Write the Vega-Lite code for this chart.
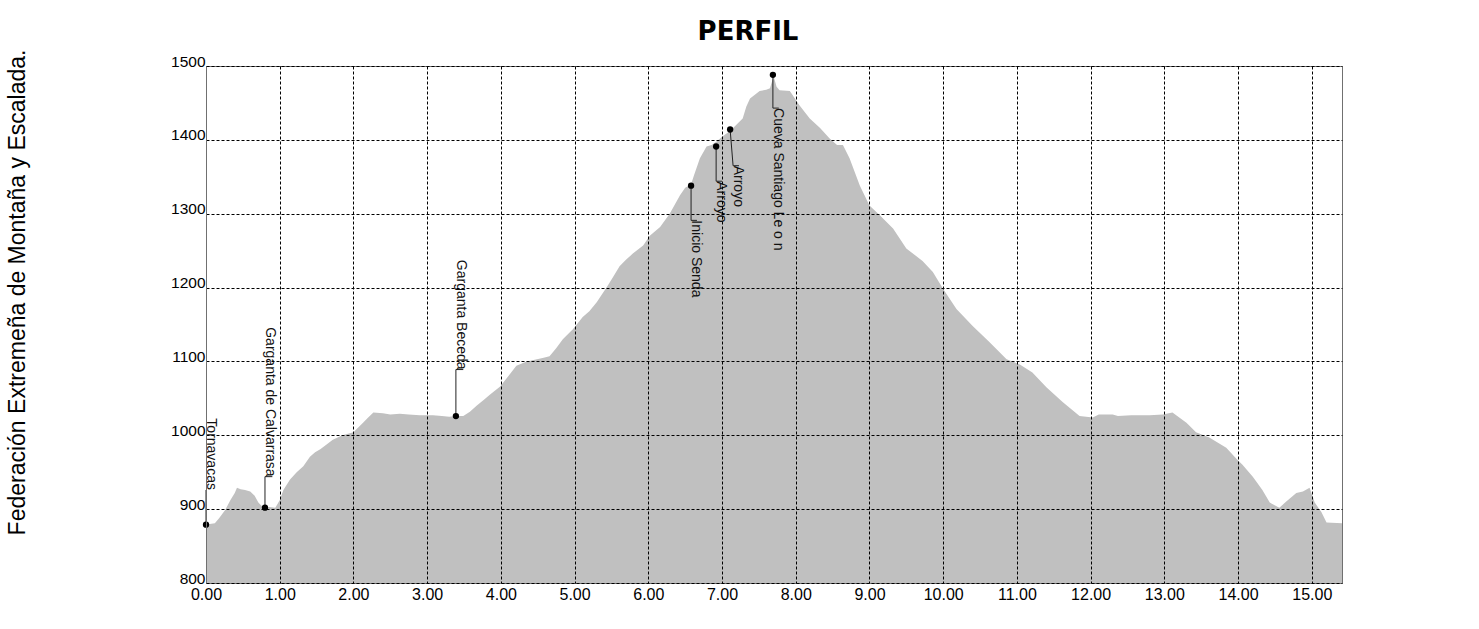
{
  "$schema": "https://vega.github.io/schema/vega-lite/v6.json",
  "width": 1136,
  "height": 517,
  "autosize": {"type": "none"},
  "padding": {"left": 206, "top": 66, "right": 137, "bottom": 46},
  "background": "white",
  "title": {"text": "PERFIL", "font": "DejaVu Sans", "fontSize": 26, "fontWeight": "bold", "color": "#000", "anchor": "middle", "frame": "group", "dx": -26, "dy": 26, "offset": 9, "baseline": "alphabetic"},
  "config": {"view": {"stroke": "#707070", "strokeWidth": 1}, "font": "Liberation Sans"},
  "datasets": {
    "profile": [
      {"km": 0.00, "elev": 879}, {"km": 0.05, "elev": 880}, {"km": 0.12, "elev": 881}, {"km": 0.18, "elev": 888},
      {"km": 0.26, "elev": 899}, {"km": 0.33, "elev": 912}, {"km": 0.39, "elev": 922}, {"km": 0.42, "elev": 929},
      {"km": 0.47, "elev": 927}, {"km": 0.53, "elev": 926}, {"km": 0.60, "elev": 924}, {"km": 0.66, "elev": 918},
      {"km": 0.71, "elev": 909}, {"km": 0.76, "elev": 904}, {"km": 0.80, "elev": 902}, {"km": 0.86, "elev": 903},
      {"km": 0.94, "elev": 902}, {"km": 1.00, "elev": 912}, {"km": 1.05, "elev": 926}, {"km": 1.14, "elev": 940},
      {"km": 1.23, "elev": 950}, {"km": 1.32, "elev": 958}, {"km": 1.41, "elev": 971}, {"km": 1.48, "elev": 977},
      {"km": 1.55, "elev": 981}, {"km": 1.64, "elev": 988}, {"km": 1.72, "elev": 994}, {"km": 1.85, "elev": 1000},
      {"km": 2.00, "elev": 1004}, {"km": 2.13, "elev": 1017}, {"km": 2.20, "elev": 1024}, {"km": 2.27, "elev": 1031},
      {"km": 2.40, "elev": 1030}, {"km": 2.50, "elev": 1028}, {"km": 2.63, "elev": 1029}, {"km": 2.75, "elev": 1028},
      {"km": 2.90, "elev": 1027}, {"km": 3.08, "elev": 1027}, {"km": 3.20, "elev": 1026}, {"km": 3.30, "elev": 1025},
      {"km": 3.39, "elev": 1026}, {"km": 3.49, "elev": 1026}, {"km": 3.58, "elev": 1032}, {"km": 3.67, "elev": 1040},
      {"km": 3.77, "elev": 1048}, {"km": 3.85, "elev": 1055}, {"km": 3.99, "elev": 1066}, {"km": 4.10, "elev": 1080},
      {"km": 4.21, "elev": 1094}, {"km": 4.35, "elev": 1100}, {"km": 4.49, "elev": 1103}, {"km": 4.58, "elev": 1105},
      {"km": 4.66, "elev": 1107}, {"km": 4.75, "elev": 1118}, {"km": 4.84, "elev": 1130}, {"km": 4.98, "elev": 1144},
      {"km": 5.11, "elev": 1160}, {"km": 5.20, "elev": 1168}, {"km": 5.30, "elev": 1180}, {"km": 5.44, "elev": 1201},
      {"km": 5.52, "elev": 1214}, {"km": 5.61, "elev": 1229}, {"km": 5.70, "elev": 1238}, {"km": 5.79, "elev": 1246},
      {"km": 5.93, "elev": 1257}, {"km": 6.02, "elev": 1270}, {"km": 6.16, "elev": 1282}, {"km": 6.29, "elev": 1300},
      {"km": 6.43, "elev": 1325}, {"km": 6.50, "elev": 1335}, {"km": 6.58, "elev": 1340}, {"km": 6.62, "elev": 1352},
      {"km": 6.70, "elev": 1375}, {"km": 6.79, "elev": 1391}, {"km": 6.86, "elev": 1393}, {"km": 6.93, "elev": 1398},
      {"km": 7.01, "elev": 1405}, {"km": 7.08, "elev": 1410}, {"km": 7.15, "elev": 1416}, {"km": 7.28, "elev": 1429},
      {"km": 7.33, "elev": 1445}, {"km": 7.38, "elev": 1456}, {"km": 7.51, "elev": 1466}, {"km": 7.60, "elev": 1468},
      {"km": 7.65, "elev": 1470}, {"km": 7.70, "elev": 1486}, {"km": 7.74, "elev": 1472}, {"km": 7.78, "elev": 1467},
      {"km": 7.92, "elev": 1466}, {"km": 8.05, "elev": 1447}, {"km": 8.19, "elev": 1429}, {"km": 8.33, "elev": 1416},
      {"km": 8.46, "elev": 1402}, {"km": 8.56, "elev": 1393}, {"km": 8.64, "elev": 1393}, {"km": 8.73, "elev": 1375},
      {"km": 8.87, "elev": 1338}, {"km": 9.00, "elev": 1311}, {"km": 9.14, "elev": 1298}, {"km": 9.32, "elev": 1280},
      {"km": 9.50, "elev": 1253}, {"km": 9.72, "elev": 1236}, {"km": 9.86, "elev": 1221}, {"km": 10.00, "elev": 1198},
      {"km": 10.18, "elev": 1171}, {"km": 10.40, "elev": 1148}, {"km": 10.63, "elev": 1126}, {"km": 10.86, "elev": 1103},
      {"km": 11.04, "elev": 1096}, {"km": 11.21, "elev": 1085}, {"km": 11.40, "elev": 1065}, {"km": 11.62, "elev": 1045},
      {"km": 11.85, "elev": 1026}, {"km": 12.03, "elev": 1024}, {"km": 12.11, "elev": 1028}, {"km": 12.30, "elev": 1028},
      {"km": 12.37, "elev": 1026}, {"km": 12.55, "elev": 1027}, {"km": 12.80, "elev": 1027}, {"km": 12.98, "elev": 1028},
      {"km": 13.11, "elev": 1031}, {"km": 13.30, "elev": 1017}, {"km": 13.43, "elev": 1004}, {"km": 13.61, "elev": 997},
      {"km": 13.84, "elev": 983}, {"km": 13.99, "elev": 967}, {"km": 14.06, "elev": 960}, {"km": 14.20, "elev": 944},
      {"km": 14.33, "elev": 926}, {"km": 14.43, "elev": 909}, {"km": 14.56, "elev": 902}, {"km": 14.65, "elev": 910},
      {"km": 14.79, "elev": 922}, {"km": 14.88, "elev": 924}, {"km": 14.97, "elev": 929}, {"km": 15.04, "elev": 909},
      {"km": 15.13, "elev": 896}, {"km": 15.20, "elev": 882}, {"km": 15.41, "elev": 881}
    ],
    "markers": [
      {"name": "Tornavacas", "km": 0.00, "elev": 879, "lx": 0.00, "ly": 926},
      {"name": "Garganta de Calvarrasa", "km": 0.80, "elev": 902, "lx": 0.80, "ly": 944},
      {"name": "Garganta Beceda", "km": 3.39, "elev": 1026, "lx": 3.39, "ly": 1089},
      {"name": "Inicio Senda", "km": 6.58, "elev": 1338, "lx": 6.58, "ly": 1291},
      {"name": "Arroyo", "km": 6.92, "elev": 1391, "lx": 6.92, "ly": 1344},
      {"name": "Arroyo", "km": 7.11, "elev": 1414, "lx": 7.15, "ly": 1365},
      {"name": "Cueva Santiago Le o n", "km": 7.69, "elev": 1488, "lx": 7.69, "ly": 1443}
    ],
    "hooks": [
      {"km": 0.80, "elev": 944, "hx": 0.90},
      {"km": 3.39, "elev": 1089, "hx": 3.49},
      {"km": 6.58, "elev": 1291, "hx": 6.66},
      {"km": 6.92, "elev": 1344, "hx": 7.00},
      {"km": 7.15, "elev": 1365, "hx": 7.23},
      {"km": 7.69, "elev": 1443, "hx": 7.77}
    ],
    "labels": [
      {"name": "Tornavacas", "km": 0.00, "elev": 926, "pos": "up"},
      {"name": "Garganta de Calvarrasa", "km": 0.80, "elev": 944, "pos": "up"},
      {"name": "Garganta Beceda", "km": 3.39, "elev": 1089, "pos": "up"},
      {"name": "Inicio Senda", "km": 6.58, "elev": 1291, "pos": "down"},
      {"name": "Arroyo", "km": 6.92, "elev": 1344, "pos": "down"},
      {"name": "Arroyo", "km": 7.15, "elev": 1365, "pos": "down"},
      {"name": "Cueva Santiago Le o n", "km": 7.69, "elev": 1443, "pos": "down"}
    ]
  },
  "encoding": {
    "x": {
      "field": "km", "type": "quantitative",
      "scale": {"domain": [0, 15.41], "nice": false, "zero": false},
      "axis": {
        "values": [0, 1, 2, 3, 4, 5, 6, 7, 8, 9, 10, 11, 12, 13, 14, 15],
        "format": ".2f", "title": null, "grid": true, "gridColor": "#000", "gridDash": [3, 2], "gridWidth": 1,
        "domain": false, "ticks": false, "tickSize": 0, "labelPadding": 3, "labelFontSize": 16,
        "labelColor": "#000", "labelFont": "Liberation Sans", "labelFlush": false, "labelOverlap": false, "zindex": 1
      }
    },
    "y": {
      "field": "elev", "type": "quantitative",
      "scale": {"domain": [800, 1500], "nice": false, "zero": false},
      "axis": {
        "values": [800, 900, 1000, 1100, 1200, 1300, 1400, 1500], "format": "d",
        "title": "Federación Extremeña de Montaña y Escalada.", "titleFont": "Liberation Sans", "titleFontSize": 23,
        "titleFontWeight": "normal", "titleColor": "#000", "titleAngle": 270, "titleX": -182, "titleY": 226,
        "titleAlign": "center", "titleBaseline": "alphabetic",
        "grid": true, "gridColor": "#000", "gridDash": [3, 2], "gridWidth": 1,
        "domain": true, "domainColor": "#707070", "ticks": false, "tickSize": 0, "labelPadding": 1,
        "labelBaseline": "alphabetic", "labelFontSize": 15.5, "labelColor": "#000", "labelFont": "Liberation Sans",
        "labelOverlap": false, "zindex": 1
      }
    }
  },
  "layer": [
    {
      "data": {"name": "profile"},
      "mark": {"type": "area", "color": "#c0c0c0", "clip": true},
      "encoding": {"y2": {"datum": 800}}
    },
    {
      "data": {"name": "markers"},
      "mark": {"type": "rule", "color": "#222", "strokeWidth": 1},
      "encoding": {"x2": {"field": "lx"}, "y2": {"field": "ly"}}
    },
    {
      "data": {"name": "hooks"},
      "mark": {"type": "rule", "color": "#222", "strokeWidth": 1},
      "encoding": {"x2": {"field": "hx"}}
    },
    {
      "data": {"name": "markers"},
      "mark": {"type": "circle", "size": 40, "color": "#000", "opacity": 1}
    },
    {
      "data": {"name": "labels"},
      "transform": [{"filter": "datum.pos == 'up'"}],
      "mark": {"type": "text", "angle": 90, "align": "right", "baseline": "middle", "dy": -5, "fontSize": 14, "font": "Liberation Sans", "color": "#111"},
      "encoding": {"text": {"field": "name"}}
    },
    {
      "data": {"name": "labels"},
      "transform": [{"filter": "datum.pos == 'down'"}],
      "mark": {"type": "text", "angle": 90, "align": "left", "baseline": "middle", "dy": -5, "fontSize": 14, "font": "Liberation Sans", "color": "#111"},
      "encoding": {"text": {"field": "name"}}
    }
  ]
}
